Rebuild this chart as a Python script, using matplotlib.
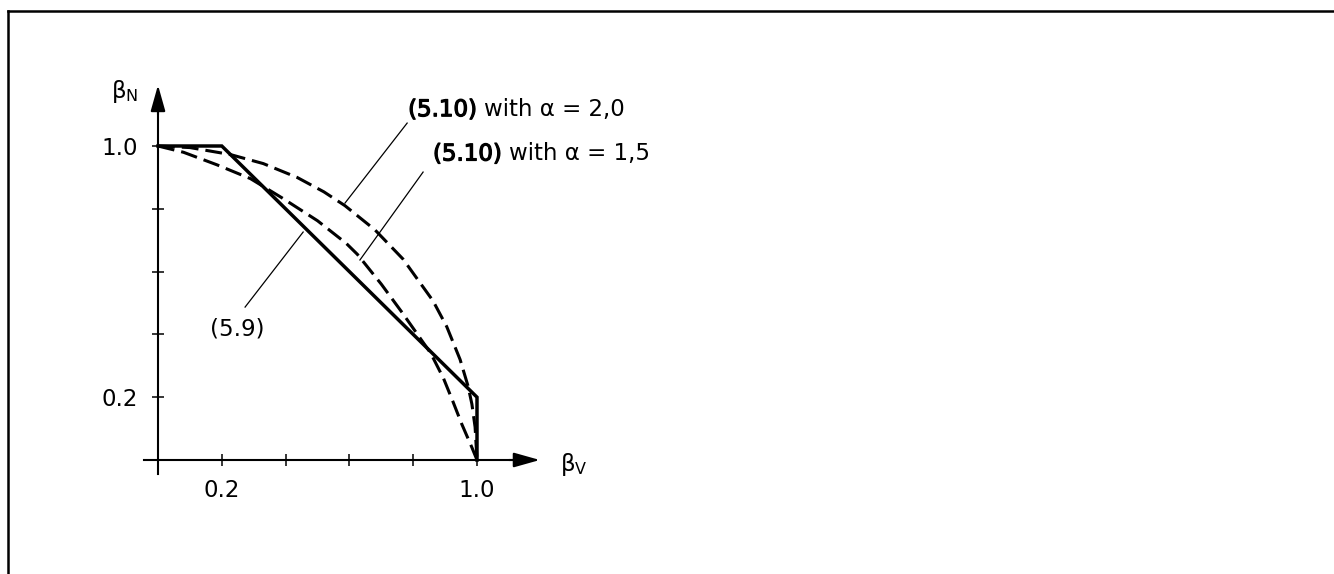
"""
Interaction diagram beta_N vs beta_V: bilinear rule (5.9) against the
power law (5.10) for alpha = 2,0 and alpha = 1,5.
"""

import matplotlib
matplotlib.use("Agg")
import matplotlib.pyplot as plt
import matplotlib.patheffects as pe
from matplotlib.lines import Line2D

# ---- values --------------------------------------------------------------
# (5.9)  bilinear
BV_59 = [0.0, 0.2, 1.0, 1.0]
BN_59 = [1.0, 1.0, 0.2, 0.0]

# (5.10) with alpha = 2,0  (outer dashed)
BV_A20 = [0.0, 0.1, 0.226, 0.33, 0.436, 0.52, 0.586, 0.68, 0.768, 0.862,
          0.905, 0.947, 0.972, 0.984, 0.994, 1.0]
BN_A20 = [1.0, 0.995, 0.973, 0.944, 0.90, 0.854, 0.81, 0.733, 0.64, 0.507,
          0.425, 0.32, 0.235, 0.178, 0.105, 0.0]

# (5.10) with alpha = 1,5  (inner dashed)
BV_A15 = [0.0, 0.08, 0.185, 0.29, 0.39, 0.5, 0.59, 0.625, 0.70, 0.765,
          0.855, 0.895, 0.925, 0.952, 0.984, 1.0]
BN_A15 = [1.0, 0.98, 0.94, 0.896, 0.834, 0.762, 0.69, 0.655, 0.56, 0.47,
          0.34, 0.26, 0.185, 0.115, 0.04, 0.0]

TICKS = [0.2, 0.4, 0.6, 0.8, 1.0]
TICK_LABELS = ["0.2", "", "", "", "1.0"]

REF = "(5.10)"
TAIL_A20 = "with α = 2,0"
TAIL_A15 = "with α = 1,5"
LABEL_59 = "(5.9)"

plt.rcParams.update({
    "font.family": "DejaVu Sans",
    "font.size": 16.5,
    "figure.facecolor": "white",
})

W, H = 1334, 574            # output size in pixels
X0, Y0 = 158, 460           # pixel of the origin
SX, SY = 319, 314           # pixels per unit

fig = plt.figure(figsize=(W / 100, H / 100), dpi=100)
ax = fig.add_axes([0, 0, 1, 1])
ax.set_facecolor("none")
ax.set_xlim(-X0 / SX, (W - X0) / SX)
ax.set_ylim(-(H - Y0) / SY, Y0 / SY)

# ---- axes through the origin, with arrows ----------------------------------
for s in ("top", "right"):
    ax.spines[s].set_visible(False)
for s in ("left", "bottom"):
    ax.spines[s].set_position(("data", 0))
    ax.spines[s].set_linewidth(1.5)
ax.spines["bottom"].set_bounds(-0.045, 1.13)
ax.spines["left"].set_bounds(-0.045, 1.13)

arrow = dict(arrowstyle="-|>,head_length=1.6,head_width=0.45", lw=1.5,
             color="black", shrinkA=0, shrinkB=0, mutation_scale=10)
ax.annotate("", xy=(1.197, 0), xytext=(1.10, 0), arrowprops=arrow)
ax.annotate("", xy=(0, 1.194), xytext=(0, 1.10), arrowprops=arrow)

ax.set_xticks(TICKS)
ax.set_xticklabels(TICK_LABELS)
ax.set_yticks(TICKS)
ax.set_yticklabels(TICK_LABELS)
ax.tick_params(axis="both", direction="inout", length=9, width=1.1,
               labelsize=16.5, colors="black")
ax.tick_params(axis="x", pad=9)
ax.tick_params(axis="y", pad=10)

ax.text(-0.103, 1.172, "β$_\\mathregular{N}$", ha="center", va="center")
ax.text(1.304, -0.013, "β$_\\mathregular{V}$", ha="center", va="center")

# ---- curves --------------------------------------------------------------
ax.plot(BV_59, BN_59, color="black", lw=2.5, solid_joinstyle="miter")
ax.plot(BV_A20, BN_A20, color="black", lw=2.2, ls=(0, (5.5, 2.3)))
ax.plot(BV_A15, BN_A15, color="black", lw=2.2, ls=(0, (5.5, 2.3)))

# ---- leaders and labels ----------------------------------------------------
ax.plot([0.781, 0.586], [1.073, 0.818], color="black", lw=0.9)
ax.plot([0.831, 0.633], [0.917, 0.637], color="black", lw=0.9)
ax.plot([0.455, 0.273], [0.726, 0.487], color="black", lw=0.9)

# equation number printed a little heavier than the rest of the label
heavy = [pe.withStroke(linewidth=0.9, foreground="black")]
for (x, y), tail in [((0.784, 1.079), TAIL_A20), ((0.862, 0.938), TAIL_A15)]:
    t = ax.text(x, y, REF, ha="left", va="bottom", path_effects=heavy)
    ax.annotate(tail, xy=(1, 0), xycoords=t, xytext=(5.3, 0),
                textcoords="offset points", ha="left", va="bottom")
ax.text(0.163, 0.395, LABEL_59, ha="left", va="baseline")

# ---- frame (only left and top edges lie inside the picture) --------------
fx, fy = 7.5 / W, 1 - 11 / H
fig.add_artist(Line2D([fx, fx], [0, fy], color="black", lw=1.8,
                      transform=fig.transFigure))
fig.add_artist(Line2D([fx, 1], [fy, fy], color="black", lw=1.8,
                      transform=fig.transFigure, solid_capstyle="projecting"))

fig.savefig("out.png", dpi=100)
